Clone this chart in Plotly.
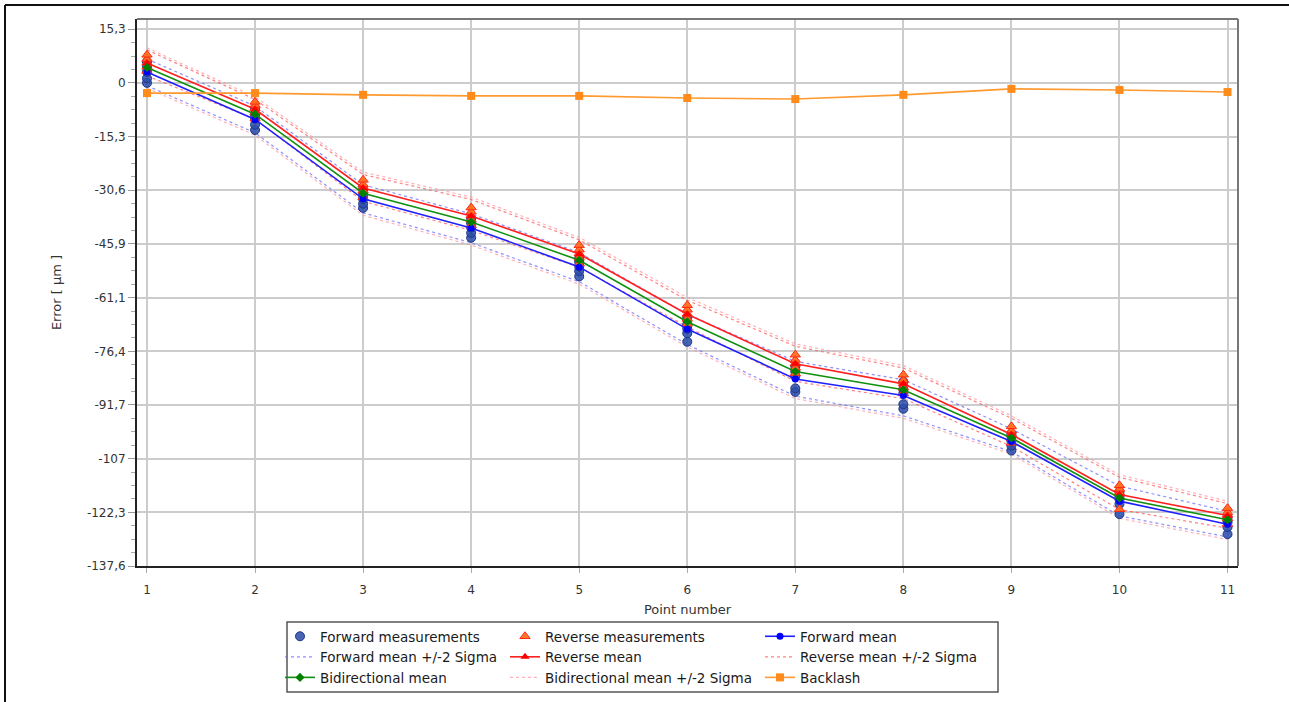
import plotly.graph_objects as go

# ---------------- data ----------------
points = [1, 2, 3, 4, 5, 6, 7, 8, 9, 10, 11]

forward_runs = [
    [0.0, -13.4, -35.6, -44.1, -55.1, -73.7, -88.0, -92.8, -104.7, -122.8, -128.5],
    [1.3, -11.9, -34.4, -42.7, -53.6, -71.3, -87.0, -91.5, -103.3, -119.9, -126.5],
    [3.2, -10.2, -33.0, -41.2, -52.3, -70.0, -83.6, -88.4, -102.0, -118.6, -125.2],
    [4.8, -9.1, -31.8, -39.9, -51.0, -68.8, -82.2, -87.2, -100.6, -117.8, -124.6],
    [6.0, -7.4, -30.3, -38.6, -50.0, -66.7, -80.7, -85.1, -99.9, -116.4, -123.7],
]
reverse_runs = [
    [3.4, -10.2, -32.6, -40.5, -51.4, -68.6, -82.7, -88.4, -102.5, -121.4, -125.6],
    [4.6, -8.4, -30.7, -39.0, -49.8, -67.2, -81.1, -86.8, -101.2, -117.8, -124.0],
    [5.7, -7.2, -29.7, -37.8, -48.6, -65.8, -79.9, -85.6, -100.0, -116.6, -123.0],
    [6.8, -6.3, -28.9, -36.7, -47.5, -64.6, -78.9, -84.6, -99.0, -115.6, -122.3],
    [8.0, -5.4, -27.6, -35.5, -46.2, -63.3, -77.4, -83.1, -97.8, -114.6, -121.1],
]

forward_mean = [3.1, -10.4, -33.0, -41.3, -52.4, -70.1, -84.3, -89.0, -102.1, -119.1, -125.7]
reverse_mean = [5.7, -7.5, -29.9, -37.9, -48.7, -65.9, -80.0, -85.7, -100.1, -117.2, -123.2]
bidir_mean = [4.4, -8.9, -31.4, -39.6, -50.5, -68.0, -82.2, -87.4, -101.1, -118.2, -124.4]

forward_upper = [6.8, -6.6, -29.0, -37.3, -48.3, -65.9, -79.3, -84.5, -98.5, -114.8, -122.0]
forward_lower = [-0.8, -14.2, -37.0, -45.5, -56.6, -74.5, -89.2, -94.8, -105.0, -123.3, -129.3]
reverse_upper = [9.4, -4.7, -26.1, -33.2, -44.7, -61.9, -75.0, -81.2, -95.5, -112.3, -119.8]
reverse_lower = [2.0, -10.3, -33.7, -42.0, -52.5, -69.5, -85.0, -89.9, -103.5, -121.5, -126.8]
bidir_upper = [10.0, -4.0, -25.4, -32.5, -44.0, -61.1, -74.3, -80.5, -94.8, -111.6, -119.1]
bidir_lower = [-1.5, -14.9, -37.7, -46.2, -57.3, -75.2, -89.9, -95.5, -105.7, -124.0, -130.0]

backlash = [-2.9, -2.9, -3.4, -3.7, -3.7, -4.3, -4.6, -3.4, -1.7, -2.0, -2.6]

y_tickvals = [15.29, 0, -15.29, -30.57, -45.86, -61.14, -76.43, -91.71, -107.0, -122.28, -137.57]
y_ticktext = ["15,3", "0", "-15,3", "-30,6", "-45,9", "-61,1", "-76,4", "-91,7", "-107", "-122,3", "-137,6"]
x_ticktext = [str(p) for p in points]

# ---------------- figure ----------------
fig = go.Figure()

FWD_SIG = "rgba(105,105,255,0.75)"
REV_SIG = "rgba(255,90,90,0.75)"
BI_SIG = "rgba(255,150,160,0.75)"


def sigma(name, up, lo, color, legend, rank):
    fig.add_trace(go.Scatter(x=points, y=up, mode="lines", name=name, legend=legend,
                             legendgroup=name, legendrank=rank,
                             line=dict(color=color, width=1.2, dash="dot")))
    fig.add_trace(go.Scatter(x=points, y=lo, mode="lines", name=name, legend=legend,
                             legendgroup=name, showlegend=False, legendrank=rank,
                             line=dict(color=color, width=1.2, dash="dot")))


# draw order: bands first, then measurements, then means
sigma("Forward mean +/-2 Sigma", forward_upper, forward_lower, FWD_SIG, "legend", 2)
sigma("Reverse mean +/-2 Sigma", reverse_upper, reverse_lower, REV_SIG, "legend3", 2)
sigma("Bidirectional mean +/-2 Sigma", bidir_upper, bidir_lower, BI_SIG, "legend2", 3)

fx, fy = [], []
for run in forward_runs:
    fx += points
    fy += run
rx, ry = [], []
for run in reverse_runs:
    rx += points
    ry += run

fig.add_trace(go.Scatter(x=fx, y=fy, mode="markers", name="Forward measurements", legend="legend",
                         legendrank=1,
                         marker=dict(symbol="circle", size=9, color="rgba(45,80,170,0.88)",
                                     line=dict(color="rgba(30,55,140,1)", width=1))))
fig.add_trace(go.Scatter(x=rx, y=ry, mode="markers", name="Reverse measurements", legend="legend2",
                         legendrank=1,
                         marker=dict(symbol="triangle-up", size=9, color="rgba(255,110,30,0.95)",
                                     line=dict(color="rgba(255,40,20,1)", width=1))))

fig.add_trace(go.Scatter(x=points, y=forward_mean, mode="lines+markers", name="Forward mean",
                         legend="legend3", legendrank=1, line=dict(color="#2020ff", width=1.6),
                         marker=dict(symbol="circle", size=7, color="#0000ff")))
fig.add_trace(go.Scatter(x=points, y=reverse_mean, mode="lines+markers", name="Reverse mean",
                         legend="legend2", legendrank=2, line=dict(color="#ff2020", width=1.6),
                         marker=dict(symbol="triangle-up", size=8, color="#ff0000")))
fig.add_trace(go.Scatter(x=points, y=bidir_mean, mode="lines+markers", name="Bidirectional mean",
                         legend="legend", legendrank=3, line=dict(color="#109010", width=1.6),
                         marker=dict(symbol="diamond", size=7, color="#008000")))
fig.add_trace(go.Scatter(x=points, y=backlash, mode="lines+markers", name="Backlash",
                         legend="legend3", legendrank=3, line=dict(color="#ff9a30", width=1.6),
                         marker=dict(symbol="square", size=8, color="#ff8c1a")))

# ---------------- layout ----------------
L, R, T, B = 137, 51, 19, 136
W, H = 1289, 702
pw, ph = W - L - R, H - T - B


def px(xp):
    return (xp - L) / pw


def py(yp):
    return (H - B - yp) / ph


legend_common = dict(
    bgcolor="rgba(0,0,0,0)", borderwidth=0, orientation="v",
    font=dict(family="DejaVu Sans, sans-serif", size=13.5, color="#1a1a1a"),
    yanchor="bottom", xanchor="left", tracegroupgap=0, itemwidth=30, traceorder="normal",
)

TICKFONT = dict(family="DejaVu Sans, sans-serif", size=12, color="#333333")
TITLEFONT = dict(family="DejaVu Sans, sans-serif", size=13, color="#333333")

fig.update_layout(
    width=W, height=H,
    margin=dict(l=L, r=R, t=T, b=B, autoexpand=False),
    paper_bgcolor="white", plot_bgcolor="white",
    font=dict(family="DejaVu Sans, sans-serif", size=12, color="#333333"),
    legend=dict(x=px(280), y=py(693), **legend_common),
    legend2=dict(x=px(505), y=py(693), **legend_common),
    legend3=dict(x=px(760), y=py(693), **legend_common),
    xaxis=dict(
        range=[0.9075, 11.097], tickvals=points, ticktext=x_ticktext,
        showgrid=True, gridcolor="#cccccc", gridwidth=2,
        showline=True, linecolor="#222222", linewidth=2,
        ticks="outside", ticklen=5, tickcolor="#aaaaaa", ticklabelstandoff=7,
        zeroline=False, automargin=False,
        tickfont=TICKFONT,
        title=dict(text="Point number", standoff=8, font=TITLEFONT),
    ),
    yaxis=dict(
        range=[-137.57, 18.2], tickvals=y_tickvals, ticktext=y_ticktext,
        showgrid=True, gridcolor="#cccccc", gridwidth=2,
        showline=True, linecolor="#222222", linewidth=2,
        ticks="outside", ticklen=7, tickcolor="#999999",
        zeroline=False, automargin=False,
        minor=dict(dtick=15.2855 / 4, tick0=0, ticks="outside", ticklen=4,
                   tickcolor="#aaaaaa", showgrid=False),
        tickfont=TICKFONT,
        title=dict(text="Error [ µm ]", standoff=22, font=TITLEFONT),
    ),
    shapes=[
        # plot frame top/right (gray)
        dict(type="line", xref="paper", yref="paper", x0=0, x1=1, y0=1, y1=1,
             line=dict(color="#777777", width=2)),
        dict(type="line", xref="paper", yref="paper", x0=1, x1=1, y0=0, y1=1,
             line=dict(color="#777777", width=2)),
        # legend frame
        dict(type="rect", xref="paper", yref="paper", x0=px(287), x1=px(998),
             y0=py(692), y1=py(622), line=dict(color="#555555", width=1.5)),
        # outer frame (top and left)
        dict(type="line", xref="paper", yref="paper", x0=px(5), x1=px(1295), y0=py(5), y1=py(5),
             line=dict(color="#111111", width=2)),
        dict(type="line", xref="paper", yref="paper", x0=px(5), x1=px(5), y0=py(5), y1=py(710),
             line=dict(color="#111111", width=2)),
    ],
    showlegend=True,
)

fig.write_html("out.html", config={"displayModeBar": False},
               post_script="document.body.style.margin='0';document.body.style.overflow='hidden';")
